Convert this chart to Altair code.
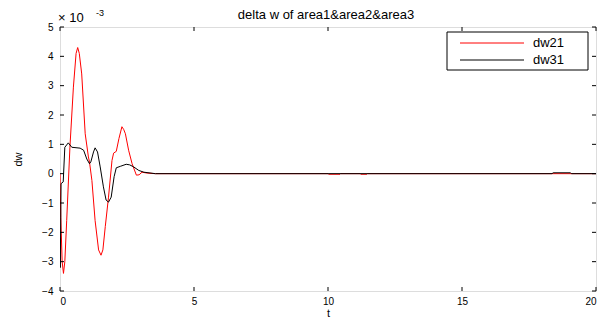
import altair as alt
import pandas as pd

# ---- data (units of 1e-3) ----
t21 = [0, 0.03, 0.08, 0.13, 0.18, 0.25, 0.37, 0.5, 0.6, 0.66, 0.72, 0.81, 0.94, 1.06, 1.1,
       1.19, 1.31, 1.44, 1.53, 1.6, 1.69, 1.81, 1.94, 2.0, 2.1, 2.2, 2.31, 2.38, 2.44, 2.56,
       2.69, 2.85, 2.95, 3.06, 3.25, 3.56, 10.0, 10.02, 10.45, 10.47, 11.2, 11.22, 11.45,
       11.47, 20]
dw21 = [0, -1.5, -3.0, -3.4, -3.0, -1.6, 0.9, 2.95, 4.1, 4.3, 4.1, 3.4, 1.36, 0.57, 0.4,
        -0.23, -1.6, -2.6, -2.78, -2.6, -1.8, -0.8, 0.45, 0.7, 0.76, 1.2, 1.6, 1.5, 1.36, 0.8,
        0.34, -0.05, -0.04, 0.05, 0.02, 0, 0, -0.02, -0.02, 0, 0, -0.02, -0.02,
        0, 0]

t31 = [0, 0.01, 0.04, 0.12, 0.18, 0.31, 0.44, 0.75, 0.88, 1.0, 1.1, 1.15, 1.25, 1.31, 1.4,
       1.5, 1.62, 1.72, 1.81, 1.91, 2.02, 2.1, 2.25, 2.47, 2.6, 2.75, 2.94, 3.13, 3.56,
       18.36, 18.4, 19.05, 19.08, 20]
dw31 = [-2.2, -3.2, -0.34, -0.28, 0.9, 1.05, 0.9, 0.87, 0.8, 0.5, 0.34, 0.4, 0.74, 0.88, 0.74,
        0.23, -0.45, -0.9, -0.97, -0.8, -0.1, 0.2, 0.25, 0.32, 0.3, 0.23, 0.11, 0.05, 0,
        0, 0.03, 0.03, 0, 0]

series = ["dw21", "dw31"]
colors = ["#ff0000", "#000000"]
xticks = [0, 5, 10, 15, 20]
yticks = [-4, -3, -2, -1, 0, 1, 2, 3, 4, 5]
title_text = "delta w of area1&area2&area3"

W, H = 536, 264
FONT = "Liberation Sans"

df = pd.concat([
    pd.DataFrame({"t": t21, "dw": dw21, "series": series[0]}),
    pd.DataFrame({"t": t31, "dw": dw31, "series": series[1]}),
])
xdf = pd.DataFrame({"t": xticks})
ydf = pd.DataFrame({"dw": yticks})
one = pd.DataFrame({"k": [0]})

xscale = alt.Scale(domain=[0, 20], nice=False)
yscale = alt.Scale(domain=[-4, 5], nice=False)
xaxis = alt.Axis(values=xticks, title="t", labelPadding=5, titlePadding=1,
                 titleFontWeight="normal",
                 domain=False, ticks=False, grid=False, labelOverlap=False)
yaxis = alt.Axis(values=yticks, title="dw", labelPadding=7, titlePadding=18,
                 titleFontWeight="normal",
                 domain=False, ticks=False, grid=False, labelOverlap=False)

lines = alt.Chart(df).mark_line(strokeWidth=1, clip=True).encode(
    x=alt.X("t:Q", scale=xscale, axis=xaxis),
    y=alt.Y("dw:Q", scale=yscale, axis=yaxis),
    color=alt.Color("series:N", scale=alt.Scale(domain=series, range=colors), legend=None),
    detail="series:N",
)

# inward ticks
tb = alt.Chart(xdf).mark_rule(color="black").encode(
    x=alt.X("t:Q", scale=xscale, axis=xaxis), y=alt.value(H), y2=alt.value(H - 4))
tt = alt.Chart(xdf).mark_rule(color="black").encode(
    x=alt.X("t:Q", scale=xscale, axis=xaxis), y=alt.value(0), y2=alt.value(4))
tl = alt.Chart(ydf).mark_rule(color="black").encode(
    y=alt.Y("dw:Q", scale=yscale, axis=yaxis), x=alt.value(0), x2=alt.value(4))
tr = alt.Chart(ydf).mark_rule(color="black").encode(
    y=alt.Y("dw:Q", scale=yscale, axis=yaxis), x=alt.value(W), x2=alt.value(W - 4))

# title and exponent label
ttl = alt.Chart(one).mark_text(text=title_text, font=FONT, fontSize=13, fontWeight="normal",
                               align="center", baseline="alphabetic").encode(
    x=alt.value(W / 2 - 2), y=alt.value(-8))
exp1 = alt.Chart(one).mark_text(text="× 10", font=FONT, fontSize=13, fontWeight="normal",
                                align="left", baseline="alphabetic").encode(
    x=alt.value(-2), y=alt.value(-5))
exp2 = alt.Chart(one).mark_text(text="-3", font=FONT, fontSize=9, fontWeight="normal",
                                align="left", baseline="alphabetic").encode(
    x=alt.value(36), y=alt.value(-11))

# legend
box = alt.Chart(one).mark_rect(fill="white", stroke="black", strokeWidth=1).encode(
    x=alt.value(387), x2=alt.value(528), y=alt.value(5), y2=alt.value(43))
leg = []
for i, (s, c) in enumerate(zip(series, colors)):
    yy = 16 + 17 * i
    leg.append(alt.Chart(one).mark_rule(color=c, strokeWidth=1).encode(
        x=alt.value(400), x2=alt.value(464), y=alt.value(yy)))
    leg.append(alt.Chart(one).mark_text(text=s, font=FONT, fontSize=13, fontWeight="normal",
                                        align="left", baseline="middle").encode(
        x=alt.value(473), y=alt.value(yy)))

chart = alt.layer(lines, tb, tt, tl, tr, ttl, exp1, exp2, box, *leg).properties(
    width=W, height=H,
    autosize=alt.AutoSizeParams(type="none"),
    padding={"left": 52, "top": 19, "right": 1, "bottom": 27},
).configure_view(stroke="black", strokeWidth=1).configure_axis(
    labelFont=FONT, labelFontSize=13, titleFont=FONT, titleFontSize=13,
    titleFontWeight="normal", labelColor="black", titleColor="black"
).configure(background="white")

chart.save("out.html", embed_options={"renderer": "svg", "actions": False})
